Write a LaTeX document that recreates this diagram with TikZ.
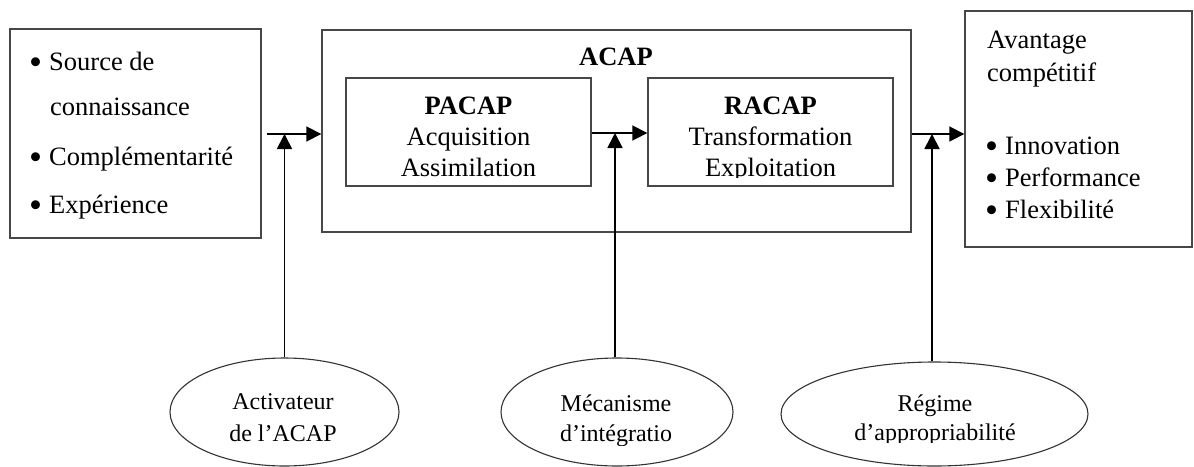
\documentclass[tikz,border=0pt]{standalone}
\usepackage{fontspec}
\setmainfont{Liberation Serif}
\usetikzlibrary{arrows.meta,shapes.geometric}
\begin{document}
\begin{tikzpicture}[x=1pt,y=-1pt,
  box/.style={draw=black!72, line width=1.4pt, inner sep=0pt},
  oval/.style={ellipse, draw=black!80, line width=1.1pt, inner sep=0pt},
  arr/.style={line width=1.8pt, -{Triangle[length=15pt,width=15pt]}},
  txt/.style={inner sep=0pt, font=\fontsize{26.5}{30}\selectfont},
  ctr/.style={txt, anchor=base},
  lft/.style={txt, anchor=base west},
  sml/.style={inner sep=0pt, anchor=base, font=\fontsize{24}{28}\selectfont}]
\newcommand{\itembullet}{\makebox[20pt][l]{\raisebox{-4.5pt}[0pt][0pt]{\scalebox{1.4}{\textbullet}}}}

% page
\fill[white] (0,0) rectangle (1194,466);
\useasboundingbox (0,0) rectangle (1194,466);

% boxes
\node[box, minimum width=251pt, minimum height=209pt] (src) at (135.5,133.5) {};
\node[box, minimum width=589pt, minimum height=202pt] (acap) at (616.5,131) {};
\node[box, minimum width=245pt, minimum height=108pt] (pacap) at (468.5,132) {};
\node[box, minimum width=245pt, minimum height=108pt] (racap) at (770.5,132) {};
\node[box, minimum width=227pt, minimum height=236pt] (adv) at (1078.5,129) {};

% ovals
\node[oval, minimum width=229pt, minimum height=108pt] (e1) at (284.5,412) {};
\node[oval, minimum width=232pt, minimum height=108pt] (e2) at (617,412) {};
\node[oval, minimum width=307pt, minimum height=104pt] (e3) at (934.5,414) {};

% left box text
\node[lft] (s1) at (29,70) {\itembullet Source de};
\node[lft] (s2) at (50,115) {connaissance};
\node[lft] (s3) at (29,165) {\itembullet Complémentarité};
\node[lft] (s4) at (29,213) {\itembullet Expérience};

% ACAP
\node[ctr] (acapt) at (616,65) {\textbf{ACAP}};
\node[ctr] (p1) at (468.5,114) {\textbf{PACAP}};
\node[ctr] (p2) at (468.5,145) {Acquisition};
\node[ctr] (r1) at (770.5,114) {\textbf{RACAP}};
\node[ctr] (r2) at (770.5,145) {Transformation};
\begin{scope}
  \clip (340,150) rectangle (900,177.5);
  \node[ctr] (p3) at (468.5,176) {Assimilation};
  \node[ctr] (r3) at (770.5,176) {Exploitation};
\end{scope}

% right box text
\node[lft] (v1) at (987,48) {Avantage};
\node[lft] (v2) at (987,81) {compétitif};
\node[lft] (v3) at (985,154) {\itembullet Innovation};
\node[lft] (v4) at (985,186) {\itembullet Performance};
\node[lft] (v5) at (985,218) {\itembullet Flexibilité};

% oval text
\node[sml] (t1) at (283,409) {Activateur};
\node[sml] (t2) at (283,441) {de l’ACAP};
\node[sml] (t3) at (616,411) {Mécanisme};
\node[sml] (t5) at (935,411) {Régime};
\begin{scope}
  \clip (500,415) rectangle (1100,445.5);
  \node[sml] (t4) at (616,441) {d’intégratio};
\end{scope}
\begin{scope}
  \clip (500,415) rectangle (1100,442.5);
  \node[sml] (t6) at (935,440) {d’appropriabilité};
\end{scope}

% junctions on the main flow
\coordinate (j1) at (284.5,134);
\coordinate (j2) at (615,133);
\coordinate (j3) at (932,134);

% flow arrows
\draw[arr, shorten <=5pt] (src.east |- j1) -- (acap.west |- j1);
\draw[arr] (pacap.east |- j2) -- (racap.west |- j2);
\draw[arr] (acap.east |- j3) -- (adv.west |- j3);

% influence arrows
\draw[arr] (e1.north) -- (j1);
\draw[arr] (e2.north -| j2) -- (j2);
\draw[arr] (e3.north -| j3) -- (j3);
\end{tikzpicture}
\end{document}
